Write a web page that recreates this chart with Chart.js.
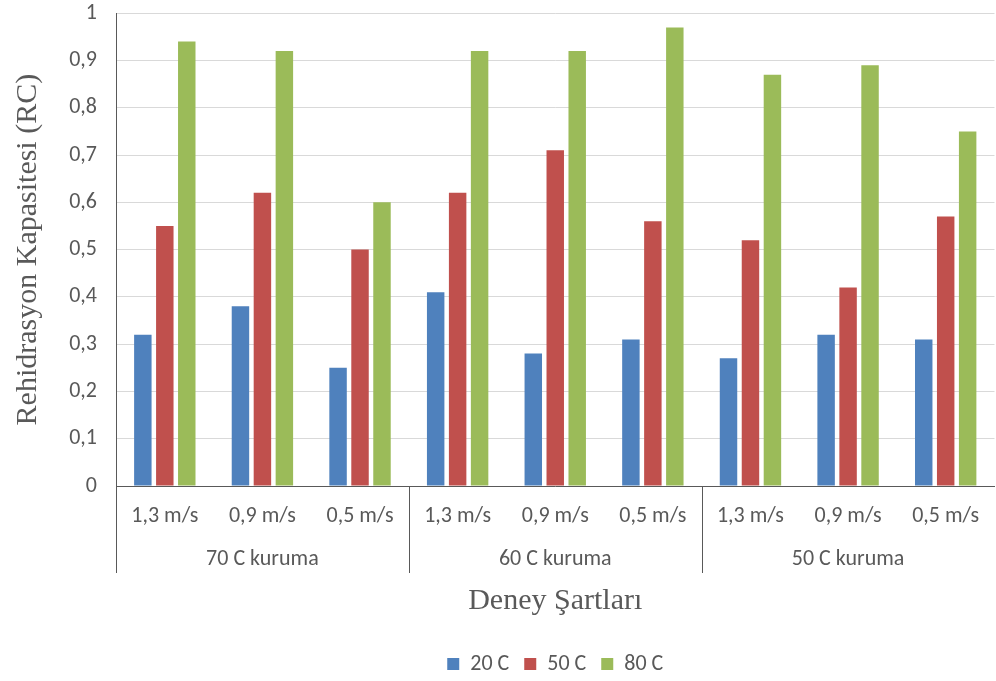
<!DOCTYPE html>
<html>
<head>
<meta charset="utf-8">
<script src="https://cdn.jsdelivr.net/npm/chart.js@4.4.1/dist/chart.umd.min.js"></script>
<style>
  html, body { margin: 0; padding: 0; background: #ffffff; }
  #wrap { width: 996px; height: 681px; position: relative; }
</style>
</head>
<body>
<div id="wrap"><canvas id="chart"></canvas></div>
<script>
// Air speeds (inner category level) and drying temperatures (outer level)
const speeds = ['1,3 m/s', '0,9 m/s', '0,5 m/s', '1,3 m/s', '0,9 m/s', '0,5 m/s', '1,3 m/s', '0,9 m/s', '0,5 m/s'];
const groups = ['70 C kuruma', '60 C kuruma', '50 C kuruma'];
const seriesNames = ['20 C', '50 C', '80 C'];

// Rehydration capacity per rehydration temperature
const rc20 = [0.32, 0.38, 0.25, 0.41, 0.28, 0.31, 0.27, 0.32, 0.31];
const rc50 = [0.55, 0.62, 0.50, 0.62, 0.71, 0.56, 0.52, 0.42, 0.57];
const rc80 = [0.94, 0.92, 0.60, 0.92, 0.92, 0.97, 0.87, 0.89, 0.75];

const yTickLabels = ['0', '0,1', '0,2', '0,3', '0,4', '0,5', '0,6', '0,7', '0,8', '0,9', '1'];

const colors = ['#4F81BD', '#C0504D', '#9BBB59'];
const textColor = '#595959';
const sansFont = 'Carlito, Lato, "Open Sans", sans-serif';
const serifFont = '"Liberation Serif", "DejaVu Serif", serif';

// Vertical separators between the drying-temperature groups, running through both label rows
const groupSeparators = {
  id: 'groupSeparators',
  afterDraw(chart) {
    const x = chart.scales.x;
    const x2 = chart.scales.x2;
    const ctx = chart.ctx;
    const bottom = x2.top + 37;
    ctx.save();
    ctx.strokeStyle = textColor;
    ctx.lineWidth = 1;
    for (let g = 0; g < groups.length; g++) {
      const px = Math.round(x.getPixelForValue(g * 3 - 0.5)) + 0.5;
      ctx.beginPath();
      ctx.moveTo(px, x.top);
      ctx.lineTo(px, bottom);
      ctx.stroke();
    }
    ctx.restore();
  }
};

new Chart(document.getElementById('chart'), {
  type: 'bar',
  data: {
    labels: speeds,
    datasets: [
      { label: seriesNames[0], data: rc20, backgroundColor: colors[0] },
      { label: seriesNames[1], data: rc50, backgroundColor: colors[1] },
      { label: seriesNames[2], data: rc80, backgroundColor: colors[2] }
    ]
  },
  options: {
    responsive: true,
    maintainAspectRatio: false,
    animation: false,
    devicePixelRatio: 1,
    layout: { padding: { top: 13, left: 0, right: 0, bottom: 0 } },
    datasets: {
      bar: { categoryPercentage: 0.675, barPercentage: 0.795, borderWidth: 0 }
    },
    plugins: {
      tooltip: { enabled: false },
      legend: {
        position: 'bottom',
        fullSize: false,
        maxHeight: 43,
        labels: {
          boxWidth: 12,
          boxHeight: 12,
          padding: 15,
          color: textColor,
          font: { family: sansFont, size: 22 }
        }
      }
    },
    scales: {
      x: {
        type: 'category',
        position: 'bottom',
        offset: true,
        grid: { display: true, drawOnChartArea: false, drawTicks: false },
        border: { display: true, color: textColor, width: 1 },
        ticks: { color: textColor, padding: 16.8, maxRotation: 0, autoSkip: false, font: { family: sansFont, size: 22 } },
        afterFit(scale) { scale.height = 50; }
      },
      x2: {
        type: 'category',
        position: 'bottom',
        labels: groups,
        offset: true,
        grid: { display: false, drawTicks: false },
        border: { display: false },
        ticks: { color: textColor, padding: 10.3, maxRotation: 0, autoSkip: false, font: { family: sansFont, size: 22 } },
        title: {
          display: true,
          text: 'Deney Şartları',
          color: textColor,
          font: { family: serifFont, size: 30 },
          padding: { top: 0, bottom: 19 }
        },
        afterFit(scale) { scale.height = 102; }
      },
      y: {
        min: 0,
        max: 1,
        ticks: {
          stepSize: 0.1,
          color: textColor,
          padding: 0,
          font: { family: sansFont, size: 22 },
          callback: (value, index) => yTickLabels[index]
        },
        grid: { color: '#D9D9D9', lineWidth: 1, drawTicks: true, tickLength: 19, tickColor: 'rgba(0,0,0,0)' },
        border: { display: true, color: textColor, width: 1 },
        title: {
          display: true,
          text: 'Rehidrasyon Kapasitesi (RC)',
          color: textColor,
          font: { family: serifFont, size: 30 },
          padding: { top: 10, bottom: 0 }
        },
        afterFit(scale) { scale.width = 116; }
      }
    }
  },
  plugins: [groupSeparators]
});
</script>
</body>
</html>
